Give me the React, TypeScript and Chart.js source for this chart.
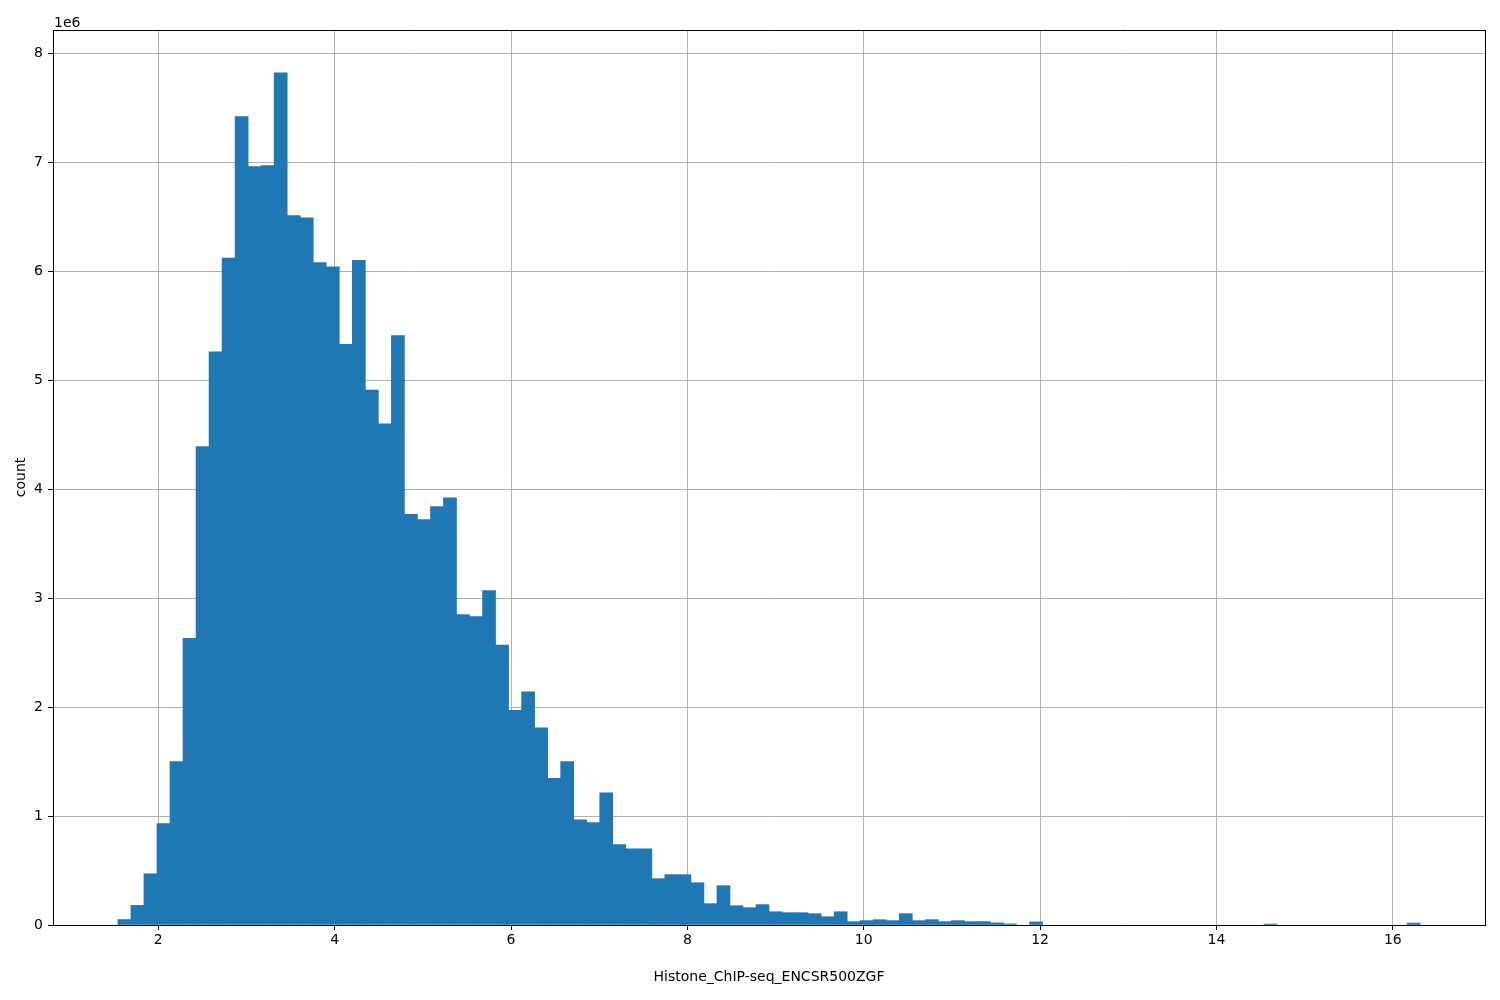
import React, { useEffect, useRef } from 'react';
import { Chart, registerables } from 'chart.js';

Chart.register(...registerables);

// Histogram: 100 equal bins between these edges
const binLow = 1.542;
const binHigh = 16.31;

// Bin counts in units of 1e6
const counts: number[] = [
  0.05, 0.18, 0.47, 0.93, 1.50, 2.63, 4.39, 5.26, 6.12, 7.42,
  6.96, 6.97, 7.82, 6.51, 6.49, 6.08, 6.04, 5.33, 6.10, 4.91,
  4.60, 5.41, 3.77, 3.72, 3.84, 3.92, 2.85, 2.83, 3.07, 2.57,
  1.97, 2.14, 1.81, 1.345, 1.50, 0.966, 0.939, 1.214, 0.737, 0.70,
  0.70, 0.425, 0.462, 0.462, 0.388, 0.196, 0.361, 0.177, 0.159, 0.187,
  0.122, 0.113, 0.113, 0.104, 0.076, 0.122, 0.031, 0.040, 0.049, 0.040,
  0.104, 0.040, 0.049, 0.031, 0.040, 0.031, 0.031, 0.020, 0.010, 0,
  0.028, 0, 0, 0, 0, 0, 0, 0, 0, 0,
  0, 0, 0, 0, 0, 0, 0, 0, 0.009, 0,
  0, 0, 0, 0, 0, 0, 0, 0, 0, 0.018,
];

const xTickValues = [2, 4, 6, 8, 10, 12, 14, 16];
const yTickValues = [0, 1, 2, 3, 4, 5, 6, 7, 8];
const xLabel = 'Histone_ChIP-seq_ENCSR500ZGF';
const yLabel = 'count';
const offsetText = '1e6';

const xMin = 0.806;
const xMax = 17.045;
const yMax = 8.214;

const FONT = 'DejaVu Sans';

export default function App() {
  const canvasRef = useRef<HTMLCanvasElement | null>(null);

  useEffect(() => {
    if (!canvasRef.current) return;
    const width = (binHigh - binLow) / counts.length;
    const points = counts.map((c, i) => ({
      x: binLow + width * (i + 0.5),
      y: c === 0 ? null : c,
    }));

    const framePlugin = {
      id: 'framePlugin',
      afterDraw(chart: any) {
        const { ctx, chartArea: a } = chart;
        ctx.save();
        ctx.strokeStyle = '#000';
        ctx.lineWidth = 1;
        ctx.beginPath();
        ctx.moveTo(Math.round(a.left), Math.round(a.top) + 0.5);
        ctx.lineTo(Math.round(a.right) + 1, Math.round(a.top) + 0.5);
        ctx.moveTo(Math.round(a.right) + 0.5, Math.round(a.top));
        ctx.lineTo(Math.round(a.right) + 0.5, Math.round(a.bottom) + 1);
        ctx.stroke();
        ctx.fillStyle = '#000';
        ctx.font = `14px "${FONT}"`;
        ctx.textAlign = 'left';
        ctx.textBaseline = 'alphabetic';
        ctx.fillText(offsetText, a.left + 1, a.top - 3);
        ctx.restore();
      },
    };

    const tickFont = { family: FONT, size: 14 };

    const chart = new Chart(canvasRef.current, {
      type: 'bar',
      data: {
        datasets: [
          {
            data: points as any,
            backgroundColor: '#1f77b4',
            borderWidth: 0,
            barPercentage: 1,
            categoryPercentage: 1,
          },
        ],
      },
      plugins: [framePlugin],
      options: {
        animation: false,
        responsive: true,
        maintainAspectRatio: false,
        layout: { padding: { top: 30, right: 15, left: 0, bottom: 0 } },
        plugins: { legend: { display: false }, tooltip: { enabled: false } },
        scales: {
          x: {
            type: 'linear',
            min: xMin,
            max: xMax,
            offset: false,
            z: 1,
            afterBuildTicks: (s: any) => {
              s.ticks = xTickValues.map((v) => ({ value: v }));
            },
            afterFit: (s: any) => {
              s.height = 75;
            },
            grid: {
              color: '#b0b0b0',
              lineWidth: 1,
              offset: false,
              drawTicks: true,
              tickLength: 5,
              tickColor: '#000',
              tickWidth: 1,
            },
            border: { display: true, color: '#000', width: 1 },
            ticks: {
              color: '#000',
              font: tickFont,
              padding: 2,
              maxRotation: 0,
              autoSkip: false,
            },
            title: {
              display: true,
              text: xLabel,
              color: '#000',
              font: tickFont,
              padding: { top: 0, bottom: 14 },
            },
          },
          y: {
            type: 'linear',
            min: 0,
            max: yMax,
            z: 1,
            afterBuildTicks: (s: any) => {
              s.ticks = yTickValues.map((v) => ({ value: v }));
            },
            afterFit: (s: any) => {
              s.width = 53;
            },
            grid: {
              color: '#b0b0b0',
              lineWidth: 1,
              drawTicks: true,
              tickLength: 5,
              tickColor: '#000',
              tickWidth: 1,
            },
            border: { display: true, color: '#000', width: 1 },
            ticks: {
              color: '#000',
              font: tickFont,
              padding: 5,
            },
            title: {
              display: true,
              text: yLabel,
              color: '#000',
              font: tickFont,
              padding: { top: 13, bottom: 0 },
            },
          },
        },
      } as any,
    });

    return () => {
      chart.destroy();
    };
  }, []);

  return (
    <div
      style={{
        position: 'absolute',
        left: 0,
        top: 0,
        width: 1500,
        height: 1000,
        background: '#fff',
      }}
    >
      <canvas ref={canvasRef} />
    </div>
  );
}
